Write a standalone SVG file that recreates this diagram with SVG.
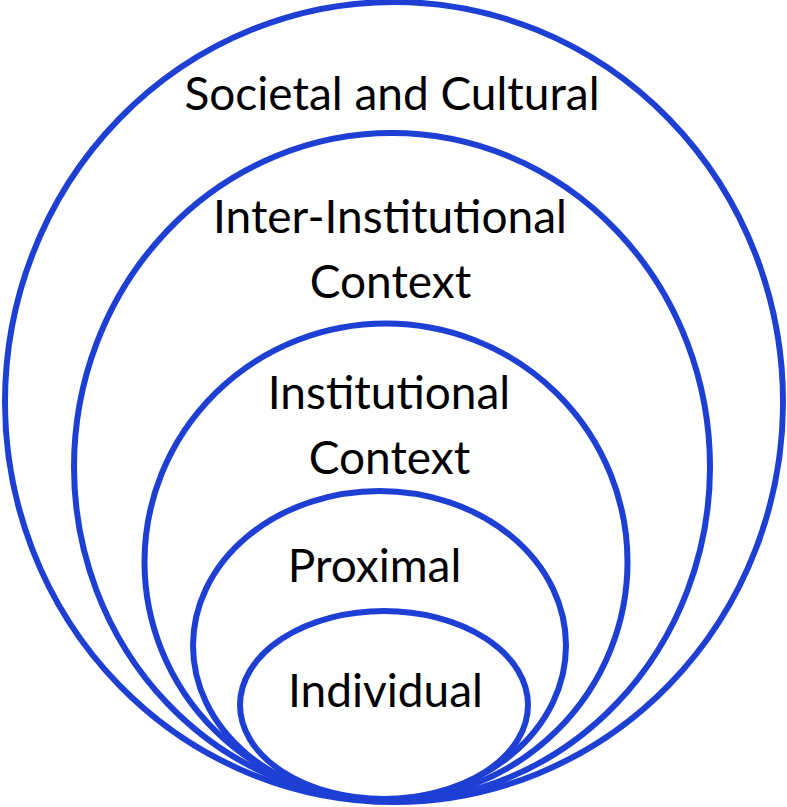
<svg xmlns="http://www.w3.org/2000/svg" width="787" height="807" viewBox="0 0 787 807">
<style>
.ring{fill:none;stroke:#1e3fd4;stroke-width:6}
.lbl{font-family:Lato,"Open Sans","Liberation Sans",sans-serif;font-size:46px;fill:#000;text-anchor:middle}
</style>
<rect width="787" height="807" fill="#fff"/>
<g id="societal"><ellipse class="ring" cx="394" cy="402" rx="389" ry="400"/><text class="lbl" x="392" y="110">Societal and Cultural</text></g>
<g id="inter-institutional"><ellipse class="ring" cx="392" cy="467" rx="318" ry="334"/><text class="lbl" x="390" y="233">Inter-Institutional</text><text class="lbl" x="390.5" y="298">Context</text></g>
<g id="institutional"><ellipse class="ring" cx="386" cy="562" rx="241.5" ry="238.5"/><text class="lbl" x="389" y="409">Institutional</text><text class="lbl" x="389.5" y="474">Context</text></g>
<g id="proximal"><ellipse class="ring" cx="379.5" cy="645.5" rx="186.5" ry="154.5"/><text class="lbl" x="374.5" y="582">Proximal</text></g>
<g id="individual"><ellipse class="ring" cx="384" cy="705" rx="144" ry="94"/><text class="lbl" x="385.5" y="707">Individual</text></g>
<g id="connectors"/>
</svg>
